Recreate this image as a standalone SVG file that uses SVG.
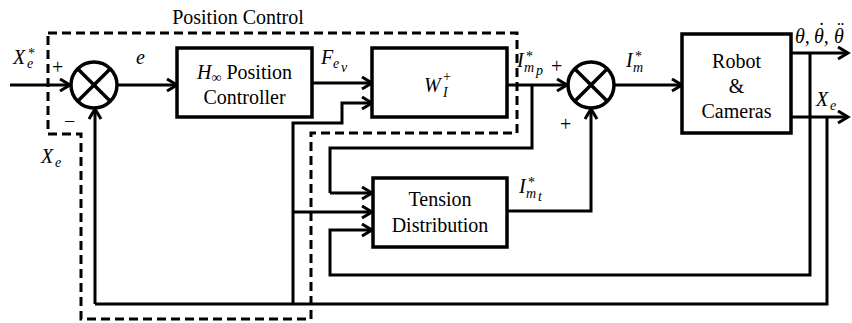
<svg xmlns="http://www.w3.org/2000/svg" width="852" height="323" viewBox="0 0 852 323">
<defs>
<marker id="arr" markerUnits="userSpaceOnUse" markerWidth="16" markerHeight="16" refX="11" refY="7" orient="auto">
<path d="M1,1 L11,7 L1,13" fill="none" stroke="#000" stroke-width="3" stroke-linejoin="miter"/>
</marker>
</defs>
<style>
.box{fill:#fff;stroke:#000;stroke-width:3.5}
.sum{fill:#fff;stroke:#000;stroke-width:3.5}
.x{stroke:#000;stroke-width:3.5}
.w{fill:none;stroke:#000;stroke-width:3}
.a{fill:none;stroke:#000;stroke-width:3;marker-end:url(#arr)}
.dash{fill:none;stroke:#000;stroke-width:3;stroke-dasharray:9,5}
.m{font-style:italic}
.s{font-size:14px}
.n{font-style:normal}
</style>
<g font-family="Liberation Serif, Times New Roman, Noto Serif, DejaVu Serif, serif" font-size="20" fill="#000">
<g id="position-control">
<path class="dash" d="M48,33 L517,33 L517,133 L311,133 L311,319 L81,319 L81,134 L48,134 Z"/>
<text x="238" y="24" text-anchor="middle">Position Control</text>
</g>
<g id="connectors">
<line class="a" x1="10" y1="85" x2="70" y2="85"/>
<line class="a" x1="118" y1="85" x2="177" y2="85"/>
<line class="a" x1="312" y1="83" x2="372" y2="83"/>
<polyline class="a" points="293,305 293,123 342,123 342,103 372,103"/>
<polyline class="a" points="507,85 567,85"/>
<polyline class="w" points="532,85 532,148 330,148 330,193"/>
<line class="a" x1="330" y1="193" x2="372" y2="193"/>
<line class="a" x1="293" y1="212" x2="372" y2="212"/>
<polyline class="a" points="810,53 810,275 330,275 330,230 372,230"/>
<polyline class="w" points="827,117 827,304 95,304"/>
<line class="a" x1="95" y1="304" x2="95" y2="109"/>
<polyline class="a" points="507,211 591,211 591,109"/>
<line class="a" x1="615" y1="85" x2="682" y2="85"/>
<line class="a" x1="791" y1="53" x2="848" y2="53"/>
<line class="a" x1="791" y1="117" x2="848" y2="117"/>
</g>
<g id="sum1">
<circle class="sum" cx="94" cy="85" r="23"/>
<line class="x" x1="77.7" y1="68.7" x2="110.3" y2="101.3"/>
<line class="x" x1="110.3" y1="68.7" x2="77.7" y2="101.3"/>
</g>
<g id="sum2">
<circle class="sum" cx="591" cy="85" r="23"/>
<line class="x" x1="574.7" y1="68.7" x2="607.3" y2="101.3"/>
<line class="x" x1="607.3" y1="68.7" x2="574.7" y2="101.3"/>
</g>
<g id="hinf">
<rect class="box" x="177" y="48" width="135" height="69"/>
<text x="244.5" y="79" text-anchor="middle"><tspan class="m">H</tspan><tspan class="s" dy="3">∞</tspan><tspan dy="-3"> Position</tspan></text>
<text x="244.5" y="104" text-anchor="middle">Controller</text>
</g>
<g id="wi">
<rect class="box" x="372" y="48" width="135" height="69"/>
<text class="m"><tspan x="424" y="92">W</tspan><tspan class="s" x="443" y="97">I</tspan><tspan class="s n" x="443" y="81">+</tspan></text>
</g>
<g id="tension">
<rect class="box" x="373" y="178" width="134" height="69"/>
<text x="440" y="206" text-anchor="middle">Tension</text>
<text x="440" y="232" text-anchor="middle">Distribution</text>
</g>
<g id="robot">
<rect class="box" x="682" y="34" width="109" height="99"/>
<text x="736.5" y="68" text-anchor="middle">Robot</text>
<text x="736.5" y="93" text-anchor="middle">&amp;</text>
<text x="736.5" y="118" text-anchor="middle">Cameras</text>
</g>
<g id="labels">
<text class="m"><tspan x="13" y="64">X</tspan><tspan class="s" x="27" y="68">e</tspan><tspan class="s n" x="28" y="58">*</tspan></text>
<text x="52" y="74">+</text>
<text x="64" y="128">−</text>
<text class="m"><tspan x="41" y="163">X</tspan><tspan class="s" x="55" y="167">e</tspan></text>
<text class="m" x="136" y="64">e</text>
<text class="m"><tspan x="321" y="64">F</tspan><tspan class="s" x="333" y="68">e</tspan><tspan class="s" x="341" y="72">v</tspan></text>
<text class="m"><tspan x="517" y="67">I</tspan><tspan class="s n" x="526" y="61">*</tspan><tspan class="s" x="524" y="72">m</tspan><tspan class="s" x="536" y="75">p</tspan></text>
<text x="551" y="73">+</text>
<text x="560" y="131">+</text>
<text class="m"><tspan x="519" y="193">I</tspan><tspan class="s n" x="528" y="187">*</tspan><tspan class="s" x="526" y="198">m</tspan><tspan class="s" x="538" y="201">t</tspan></text>
<text class="m"><tspan x="626" y="67">I</tspan><tspan class="s n" x="635" y="61">*</tspan><tspan class="s" x="633" y="72">m</tspan></text>
<text class="m" id="theta"><tspan x="795" y="43">θ,</tspan><tspan x="814" y="43">θ,</tspan><tspan x="834" y="43">θ</tspan><tspan x="817" y="37">˙</tspan><tspan x="836" y="37">¨</tspan></text>
<text class="m"><tspan x="816" y="106">X</tspan><tspan class="s" x="830" y="110">e</tspan></text>
</g>
</g>
</svg>
